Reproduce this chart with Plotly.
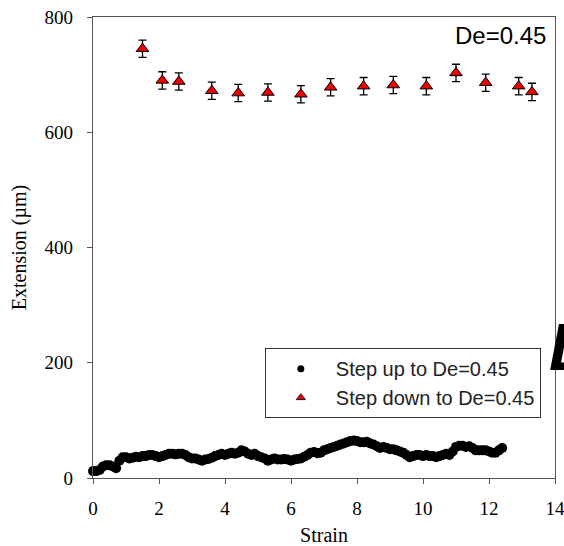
import plotly.graph_objects as go

# Step up to De=0.45 (dense trace)
up_strain = [round(i * 0.1, 1) for i in range(125)]
up_ext = [12, 12, 14, 20, 22, 22, 20, 17, 30, 36,
          36, 34, 35, 37, 36, 38, 38, 40, 40, 38,
          36, 38, 40, 42, 42, 41, 42, 42, 40, 36,
          34, 34, 32, 30, 32, 33, 35, 38, 40, 42,
          40, 42, 44, 42, 44, 48, 46, 42, 40, 42,
          38, 36, 34, 30, 32, 34, 32, 32, 33, 32,
          30, 32, 33, 34, 37, 40, 44, 45, 43, 44,
          48, 50, 52, 54, 56, 58, 60, 62, 64, 65,
          64, 62, 62, 63, 60, 58, 55, 52, 54, 52,
          50, 50, 48, 46, 44, 40, 36, 38, 40, 40,
          38, 40, 38, 38, 36, 38, 40, 42, 40, 46,
          54, 56, 56, 54, 55, 52, 48, 48, 48, 48,
          46, 44, 44, 48, 52]

# Step down to De=0.45
down_strain = [1.5, 2.1, 2.6, 3.6, 4.4, 5.3, 6.3, 7.2, 8.2, 9.1, 10.1, 11.0, 11.9, 12.9, 13.3]
down_ext = [745, 690, 688, 672, 668, 669, 666, 678, 680, 682, 680, 703, 686, 680, 670]
down_err = [15, 15, 15, 15, 15, 15, 15, 15, 15, 15, 15, 15, 15, 15, 15]

x_ticks = [0, 2, 4, 6, 8, 10, 12, 14]
y_ticks = [0, 200, 400, 600, 800]

fig = go.Figure()

fig.add_trace(go.Scatter(
    x=up_strain, y=up_ext, mode="markers",
    marker=dict(symbol="circle", size=10, color="black"),
    showlegend=False, hoverinfo="skip", cliponaxis=False))

fig.add_trace(go.Scatter(
    x=down_strain, y=down_ext, mode="markers",
    marker=dict(symbol="triangle-up", size=11, color="#ee0000",
                line=dict(color="black", width=1)),
    error_y=dict(type="data", array=down_err, color="black", thickness=1.3, width=4),
    showlegend=False))

# legend-only entries
fig.add_trace(go.Scatter(
    x=[None], y=[None], mode="markers", name="Step up to De=0.45",
    marker=dict(symbol="circle", size=7, color="black")))
fig.add_trace(go.Scatter(
    x=[None], y=[None], mode="markers", name="Step down to De=0.45",
    marker=dict(symbol="triangle-up", size=8, color="#ee0000",
                line=dict(color="black", width=0.8))))

serif = "Liberation Serif, Times New Roman, serif"
sans = "Liberation Sans, Arial, sans-serif"

fig.update_layout(
    width=564, height=546,
    margin=dict(l=93, r=9, t=17, b=68, autoexpand=False),
    paper_bgcolor="white", plot_bgcolor="white",
    font=dict(family=serif, size=19, color="black"),
    legend=dict(
        x=0.372, y=0.2817, xanchor="left", yanchor="top",
        bgcolor="white", bordercolor="#333333", borderwidth=1,
        font=dict(family=sans, size=20, color="#222222"),
        tracegroupgap=0, itemwidth=60),
    xaxis=dict(
        range=[0, 14], tickvals=x_ticks, ticktext=[str(v) for v in x_ticks],
        showgrid=False, zeroline=False, automargin=False,
        showline=True, linecolor="#555555", linewidth=1.2, mirror=True,
        ticks="outside", ticklen=5, tickcolor="#555555", ticklabelstandoff=8,
        ticklabeloverflow="allow",
        title=dict(text="Strain", font=dict(family=serif, size=20), standoff=13),
        tickfont=dict(family=serif, size=19)),
    yaxis=dict(
        range=[0, 800], tickvals=y_ticks, ticktext=[str(v) for v in y_ticks],
        showgrid=False, zeroline=False, automargin=False,
        showline=True, linecolor="#555555", linewidth=1.2, mirror=True,
        ticks="outside", ticklen=5, tickcolor="#555555", ticklabelstandoff=10,
        title=dict(text="Extension (µm)", font=dict(family=serif, size=20), standoff=12),
        tickfont=dict(family=serif, size=19)),
    annotations=[
        dict(text="De=0.45", xref="paper", yref="paper", x=0.984, y=0.9607,
             xanchor="right", yanchor="middle", showarrow=False,
             font=dict(family=sans, size=24, color="black")),
        dict(text="<b><i>L</i></b>", xref="paper", yref="paper", x=0.983, y=0.2,
             xanchor="left", yanchor="bottom", showarrow=False,
             font=dict(family=sans, size=66, color="black")),
    ],
)

fig.write_html("out.html",
               config={"displayModeBar": False},
               post_script="document.body.style.margin='0';document.body.style.padding='0';")
